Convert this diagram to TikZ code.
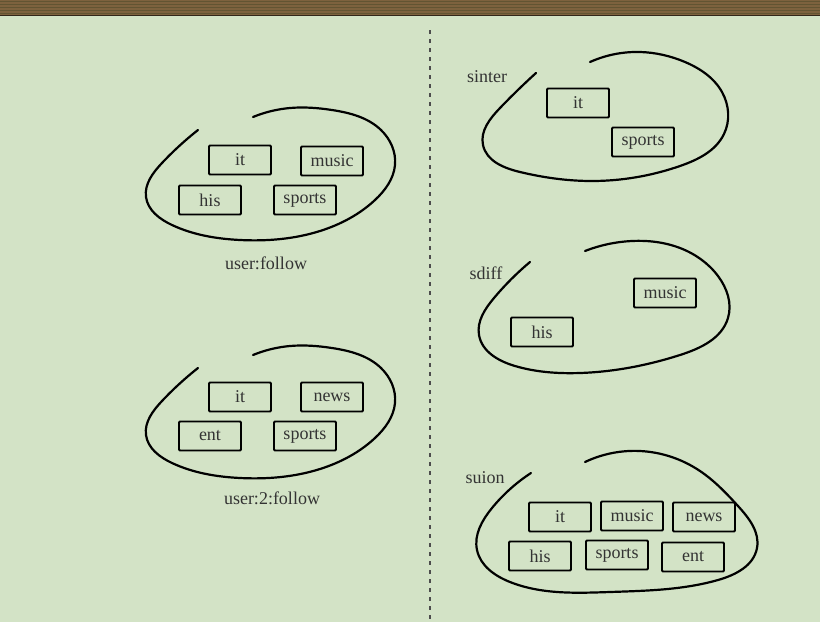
\documentclass[tikz,border=0pt]{standalone}
\usepackage{fontspec}
\setmainfont{Liberation Serif}
\usepackage{tikz}
\usetikzlibrary{positioning, hobby}
\definecolor{sage}{RGB}{211,227,198}
\definecolor{barbrown}{RGB}{125,98,62}
\definecolor{barline}{RGB}{98,84,50}
\colorlet{inkgray}{black!80}
\tikzset{
  tag/.style={draw=black, line width=1.8pt, rounded corners=1pt,
    minimum width=62pt, minimum height=29pt, inner sep=0pt,
    text=inkgray, font=\fontsize{18}{21}\selectfont},
  blob/.style={draw=black, line width=2.2pt, line cap=round, use Hobby shortcut},
  setname/.style={text=inkgray, font=\fontsize{18}{21}\selectfont}
}
\begin{document}
\begin{tikzpicture}[x=1pt, y=-1pt]

    % Canvas and top band
    \fill[sage] (0,0) rectangle (820,622);
    \useasboundingbox (0,0) rectangle (820,622);
    \fill[barbrown] (0,0) rectangle (820,15);
    \foreach \y in {1.5, 4.5, ..., 13.5} {
      \draw[barline, line width=1pt] (0,\y) -- (820,\y);
    }
    \draw[black!60!barbrown, line width=1pt] (0,15) -- (820,15);

    % Divider
    \coordinate (divtop) at (430,30);
    \coordinate (divbot) at (430,622);
    \draw[black!70, line width=1.3pt, dash pattern=on 4pt off 5pt]
      (divtop) -- (divbot);

    % user:follow
    \draw[blob] (198,130) .. (162,163) .. (146,197) .. (172,225)
      .. (240,240) .. (320,231) .. (375,200) .. (395,165) .. (381,130)
      .. (332,110) .. (290,108) .. (253,117);
    \node[tag] (f1it) at (240,160) {it};
    \node[tag] (f1music) at (332,161) {music};
    \node[tag] (f1his) at (210,200) {his};
    \node[tag] (f1sports) at (305,200) {sports};
    \node[setname] (f1name) at (266,263) {user:follow};

    % user:2:follow
    \begin{scope}[shift={(0,238)}]
      \draw[blob] (198,130) .. (162,163) .. (146,197) .. (172,225)
        .. (240,240) .. (320,231) .. (375,200) .. (395,165) .. (381,130)
        .. (332,110) .. (290,108) .. (253,117);
    \end{scope}
    \node[tag] (f2it) at (240,397) {it};
    \node[tag] (f2news) at (332,397) {news};
    \node[tag] (f2ent) at (210,436) {ent};
    \node[tag] (f2sports) at (305,436) {sports};
    \node[setname] (f2name) at (272,498) {user:2:follow};

    % sinter
    \draw[blob] (536,73) .. (500,108) .. (483,145) .. (520,172)
      .. (590,181) .. (680,166) .. (724,134) .. (722,92) .. (685,62)
      .. (640,52) .. (590,62);
    \node[setname] (intername) at (487,77) {sinter};
    \node[tag] (interit) at (578,103) {it};
    \node[tag] (intersports) at (643,142) {sports};

    % sdiff
    \draw[blob] (530,262) .. (494,298) .. (479,335) .. (515,366)
      .. (580,373) .. (680,355) .. (728,318) .. (718,276) .. (680,248)
      .. (632,241) .. (585,251);
    \node[setname] (diffname) at (486,273) {sdiff};
    \node[tag] (diffmusic) at (665,293) {music};
    \node[tag] (diffhis) at (542,332) {his};

    % suion
    \draw[blob] (531,473) .. (492,508) .. (477,550) .. (510,582)
      .. (610,592) .. (718,580) .. (757,548) .. (738,506) .. (700,471)
      .. (640,451) .. (585,462);
    \node[setname] (unionname) at (485,478) {suion};
    \node[tag] (unionit) at (560,517) {it};
    \node[tag] (unionmusic) at (632,516) {music};
    \node[tag] (unionnews) at (704,517) {news};
    \node[tag] (unionhis) at (540,556) {his};
    \node[tag] (unionsports) at (617,555) {sports};
    \node[tag] (unionent) at (693,557) {ent};

  \end{tikzpicture}
\end{document}
